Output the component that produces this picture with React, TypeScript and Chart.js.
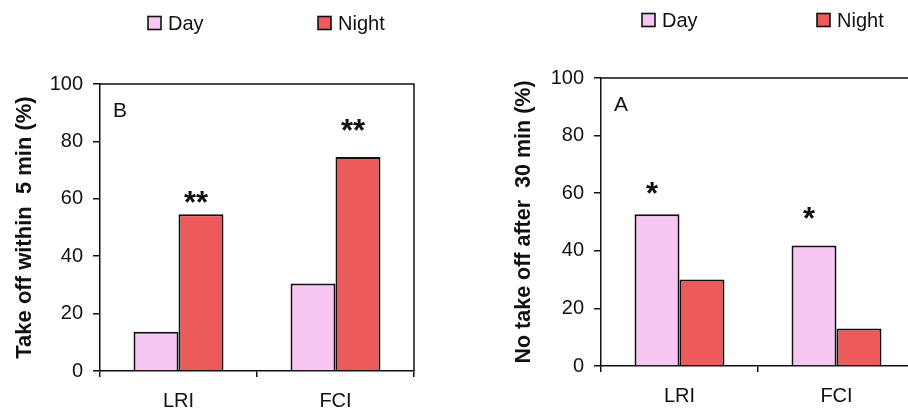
import { useEffect, useRef } from "react";
import { Chart, registerables } from "chart.js";

Chart.register(...registerables);

// ---- data ----
const categories = ["LRI", "FCI"];
const seriesNames = ["Day", "Night"];
const yTicks = [0, 20, 40, 60, 80, 100];

// Panel B: take off within 5 min (%)
const takeOffDay = [13.7, 30.5];
const takeOffNight = [54.6, 74.6];
const takeOffMarks = ["**", "**"];
const takeOffMarkLevels = [60.6, 85.7];

// Panel A: no take off after 30 min (%)
const noTakeOffDay = [52.7, 41.8];
const noTakeOffNight = [30, 13];
const noTakeOffMarks = ["*", "*"];
const noTakeOffMarkLevels = [61.9, 53.2];

// ---- styles ----
const DAY_COLOR = "#F8C6F2";
const NIGHT_COLOR = "#EC5A5B";
const INK = "#111111";
const FONT = "'Liberation Sans', Arial, Helvetica, sans-serif";

const decoPlugin = {
  id: "deco",
  afterDraw(chart: any, _args: any, opts: any) {
    const { ctx, chartArea } = chart;
    const { left, top, right, bottom } = chartArea;
    ctx.save();
    // frame top and right
    ctx.strokeStyle = INK;
    ctx.lineWidth = 1.5;
    ctx.beginPath();
    ctx.moveTo(left, top);
    ctx.lineTo(right, top);
    ctx.lineTo(right, bottom);
    ctx.stroke();

    // panel letter
    ctx.fillStyle = INK;
    ctx.font = `21px ${FONT}`;
    ctx.textAlign = "left";
    ctx.textBaseline = "alphabetic";
    ctx.fillText(opts.panel, left + 13, top + 33);

    // significance marks
    const yScale = chart.scales.y;
    const meta = chart.getDatasetMeta(opts.seriesIndex);
    ctx.font = `bold 31px ${FONT}`;
    ctx.textAlign = "center";
    (opts.marks as string[]).forEach((m: string, i: number) => {
      const el = meta.data[i];
      if (!el || !m) return;
      const mt = ctx.measureText(m);
      const off = (mt.actualBoundingBoxAscent - mt.actualBoundingBoxDescent) / 2;
      const y = yScale.getPixelForValue(opts.levels[i]);
      ctx.fillText(m, el.x - 5, y + off);
    });

    // legend
    ctx.font = `20px ${FONT}`;
    ctx.textAlign = "left";
    ctx.textBaseline = "middle";
    chart.data.datasets.forEach((ds: any, i: number) => {
      const bx = left + opts.legendX[i];
      const by = opts.legendY;
      const s = 13;
      ctx.fillStyle = ds.backgroundColor;
      ctx.fillRect(bx, by - s / 2, s, s);
      ctx.strokeStyle = INK;
      ctx.lineWidth = 1.6;
      ctx.strokeRect(bx, by - s / 2, s, s);
      ctx.fillStyle = INK;
      ctx.fillText(ds.label, bx + s + 7, by + 1);
    });
    ctx.restore();
  },
};

type PanelProps = {
  width: number;
  height: number;
  left: number;
  day: number[];
  night: number[];
  title: string;
  titleSize: number;
  titlePad: number;
  yWidth: number;
  xHeight: number;
  padTop: number;
  padRight: number;
  panel: string;
  marks: string[];
  levels: number[];
  seriesIndex: number;
  legendX: number[];
  legendY: number;
};

function Panel(p: PanelProps) {
  const ref = useRef<HTMLCanvasElement | null>(null);
  useEffect(() => {
    if (!ref.current) return;
    const chart = new Chart(ref.current, {
      type: "bar",
      data: {
        labels: categories,
        datasets: [
          {
            label: seriesNames[0],
            data: p.day,
            backgroundColor: DAY_COLOR,
            borderColor: INK,
            borderWidth: 2,
            categoryPercentage: 0.573,
            barPercentage: 1,
          },
          {
            label: seriesNames[1],
            data: p.night,
            backgroundColor: NIGHT_COLOR,
            borderColor: INK,
            borderWidth: 2,
            categoryPercentage: 0.573,
            barPercentage: 1,
          },
        ],
      },
      options: {
        responsive: false,
        animation: false,
        devicePixelRatio: 1,
        layout: { padding: { top: p.padTop, right: p.padRight, left: 0, bottom: 0 } },
        plugins: {
          legend: { display: false },
          tooltip: { enabled: false },
          deco: {
            panel: p.panel,
            marks: p.marks,
            levels: p.levels,
            seriesIndex: p.seriesIndex,
            legendX: p.legendX,
            legendY: p.legendY,
          },
        } as any,
        scales: {
          x: {
            offset: true,
            grid: {
              offset: true,
              drawOnChartArea: false,
              drawTicks: true,
              tickLength: 6,
              color: INK,
              lineWidth: 1.5,
            },
            border: { display: true, color: INK, width: 1.5 },
            ticks: { color: INK, font: { family: FONT, size: 20 }, padding: 12 },
            afterFit: (s: any) => {
              s.height = p.xHeight;
            },
          },
          y: {
            min: 0,
            max: 100,
            afterBuildTicks: (s: any) => {
              s.ticks = yTicks.map((v) => ({ value: v }));
            },
            grid: {
              drawOnChartArea: false,
              drawTicks: true,
              tickLength: 7,
              color: INK,
              lineWidth: 1.5,
            },
            border: { display: true, color: INK, width: 1.5 },
            ticks: { color: INK, font: { family: FONT, size: 20 }, padding: 10 },
            title: {
              display: true,
              text: p.title,
              color: INK,
              font: { family: FONT, size: p.titleSize, weight: "bold" },
              padding: { top: p.titlePad, bottom: 0 },
            },
            afterFit: (s: any) => {
              s.width = p.yWidth;
            },
          },
        },
      },
      plugins: [decoPlugin],
    });
    return () => chart.destroy();
  }, []);
  return (
    <canvas
      ref={ref}
      width={p.width}
      height={p.height}
      style={{ position: "absolute", left: p.left, top: 0, width: p.width, height: p.height }}
    />
  );
}

export default function App() {
  return (
    <div
      style={{
        position: "fixed",
        left: 0,
        top: 0,
        width: 930,
        height: 414,
        background: "#ffffff",
        overflow: "hidden",
      }}
    >
      <Panel
        width={454}
        height={414}
        left={0}
        day={takeOffDay}
        night={takeOffNight}
        title="Take off within  5 min (%)"
        titleSize={22}
        titlePad={12}
        yWidth={100}
        xHeight={43}
        padTop={84}
        padRight={40}
        panel="B"
        marks={takeOffMarks}
        levels={takeOffMarkLevels}
        seriesIndex={1}
        legendX={[48, 218]}
        legendY={23}
      />
      <Panel
        width={476}
        height={414}
        left={454}
        day={noTakeOffDay}
        night={noTakeOffNight}
        title="No take off after  30 min (%)"
        titleSize={21.5}
        titlePad={57}
        yWidth={147}
        xHeight={48}
        padTop={78}
        padRight={15}
        panel="A"
        marks={noTakeOffMarks}
        levels={noTakeOffMarkLevels}
        seriesIndex={0}
        legendX={[41, 216]}
        legendY={20}
      />
    </div>
  );
}
